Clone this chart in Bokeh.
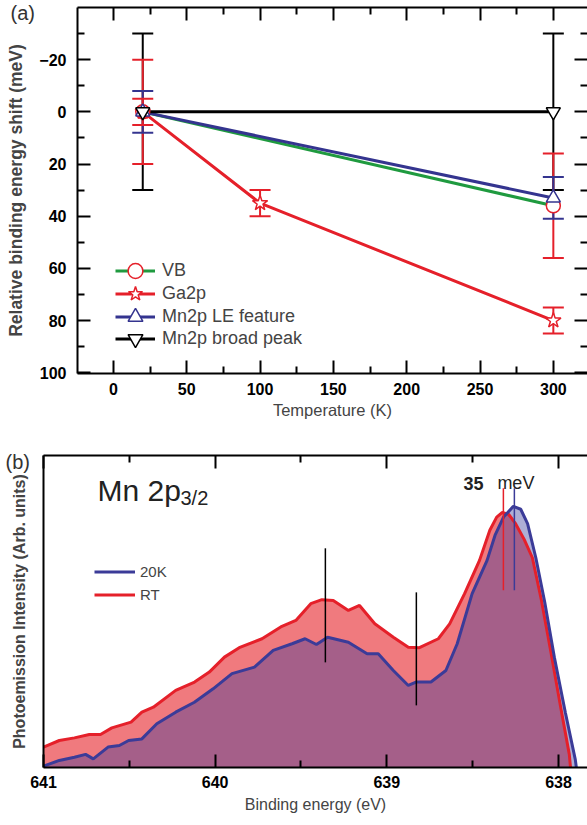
from bokeh.plotting import figure
from bokeh.models import (Range1d, LinearAxis, FixedTicker, Whisker, TeeHead,
                          ColumnDataSource, Legend, LegendItem, Label)
from bokeh.embed import file_html
from bokeh.resources import INLINE

# ---------------- data: panel (a) ----------------
vb_temp = [20, 300]
vb_shift = [0, 36]
vb_err = [20, 20]

ga_temp = [20, 100, 300]
ga_shift = [0, 35, 80]
ga_err = [5, 5, 5]

le_temp = [20, 300]
le_shift = [0, 33]
le_err = [8, 8]

bp_temp = [20, 300]
bp_shift = [0, 0]
bp_err = [30, 30]

a_xticks = [0, 50, 100, 150, 200, 250, 300]
a_xminor = [25, 75, 125, 175, 225, 275]
a_yticks = [-20, 0, 20, 40, 60, 80, 100]
a_yminor = [-30, -10, 10, 30, 50, 70, 90]

# ---------------- data: panel (b) ----------------
rt_ev = [641.0, 640.908, 640.82, 640.733, 640.668, 640.602, 640.49, 640.427, 640.36,
         640.23, 640.12, 640.034, 639.946, 639.86, 639.727, 639.618, 639.53, 639.443,
         639.378, 639.312, 639.224, 639.159, 639.07, 638.962, 638.875, 638.81, 638.70,
         638.634, 638.547, 638.46, 638.40, 638.36, 638.327, 638.29, 638.25, 638.20,
         638.152, 638.10, 638.044, 637.99, 637.937, 637.93]
rt_int = [0.078, 0.103, 0.113, 0.126, 0.126, 0.151, 0.173, 0.211, 0.230,
          0.294, 0.326, 0.364, 0.421, 0.457, 0.491, 0.536, 0.561, 0.625,
          0.640, 0.637, 0.599, 0.618, 0.548, 0.497, 0.459, 0.457, 0.491,
          0.548, 0.663, 0.79, 0.905, 0.955, 0.973, 0.965, 0.93, 0.87,
          0.80, 0.64, 0.44, 0.24, 0.05, 0.0]

k20_ev = [641.0, 640.908, 640.82, 640.755, 640.71, 640.624, 640.558, 640.504, 640.427,
          640.34, 640.23, 640.121, 640.012, 639.902, 639.771, 639.662, 639.552, 639.476,
          639.41, 639.345, 639.224, 639.115, 639.05, 638.962, 638.875, 638.83, 638.743,
          638.656, 638.59, 638.503, 638.416, 638.37, 638.32, 638.263, 638.22, 638.18,
          638.132, 638.08, 638.024, 637.96, 637.902, 637.896]
k20_int = [0.005, 0.027, 0.039, 0.050, 0.033, 0.078, 0.084, 0.103, 0.109,
           0.167, 0.211, 0.249, 0.300, 0.358, 0.383, 0.447, 0.472, 0.491,
           0.469, 0.497, 0.478, 0.434, 0.434, 0.370, 0.313, 0.326, 0.326,
           0.370, 0.472, 0.663, 0.790, 0.885, 0.955, 0.996, 0.985, 0.93,
           0.80, 0.63, 0.42, 0.21, 0.03, 0.0]

feat_ev = [639.358, 638.828]
feat_lo = [0.401, 0.237]
feat_hi = [0.836, 0.668]

peak_rt_ev = 638.321
peak_20k_ev = 638.257
peak_lo = 0.676
peak_hi = 1.065

b_xticks = [641, 640, 639, 638]
b_xminor = [640.5, 639.5, 638.5]

FONT = "Liberation Sans"
RED = "#e5202a"
GREEN = "#1f9a3f"
BLUE = "#34348f"
BLACK = "#000000"


def style_axis(ax, major, minor, labels=True):
    ax.ticker = FixedTicker(ticks=major, minor_ticks=minor)
    ax.major_tick_in = 13
    ax.major_tick_out = 0
    ax.minor_tick_in = 7
    ax.minor_tick_out = 0
    ax.axis_line_width = 2
    ax.major_tick_line_width = 2
    ax.minor_tick_line_width = 2
    ax.major_label_text_font = FONT
    ax.major_label_text_font_style = "bold"
    ax.major_label_text_color = "black"
    if labels:
        ax.major_label_text_font_size = "16px"
    else:
        ax.major_label_overrides = {t: "" for t in major}
        ax.major_label_text_font_size = "0px"
        ax.major_label_standoff = 0
        ax.axis_label = None


def panel_title(p, text, offset, standoff):
    t = p.title
    t.text = text
    t.align = "left"
    t.offset = offset
    t.text_font = FONT
    t.text_font_size = "20px"
    t.text_font_style = "normal"
    t.text_color = "#333333"
    try:
        t.standoff = standoff
        t.vertical_align = "bottom"
        return True
    except Exception:
        t.standoff = 0
        t.vertical_align = "top"
        return False


# ================= panel (a) =================
p1 = figure(width=587, height=430, x_range=Range1d(-24.5, 323.3),
            y_range=Range1d(100.3, -40.0), output_backend="svg",
            toolbar_location=None, min_border_left=77, min_border_right=0,
            min_border_top=7, min_border_bottom=57)
p1.grid.visible = False
p1.outline_line_color = None
if not panel_title(p1, "(a)", -67, -32):
    p1.min_border_top = 30
    p1.y_range.end = -31.3

style_axis(p1.xaxis[0], a_xticks, a_xminor)
style_axis(p1.yaxis[0], a_yticks, a_yminor)
p1.xaxis[0].major_label_standoff = 9
p1.yaxis[0].major_label_standoff = 11
p1.xaxis[0].axis_label = "Temperature (K)"
p1.xaxis[0].axis_label_text_font = FONT
p1.xaxis[0].axis_label_text_font_style = "normal"
p1.xaxis[0].axis_label_text_font_size = "16.5px"
p1.xaxis[0].axis_label_standoff = 3
p1.yaxis[0].axis_label = "Relative binding energy shift (meV)"
p1.yaxis[0].axis_label_text_font = FONT
p1.yaxis[0].axis_label_text_font_style = "bold"
p1.yaxis[0].axis_label_text_font_size = "17.5px"
p1.yaxis[0].axis_label_standoff = 10

top1 = LinearAxis()
style_axis(top1, a_xticks, a_xminor, labels=False)
p1.add_layout(top1, "above")
right1 = LinearAxis()
style_axis(right1, a_yticks, a_yminor, labels=False)
right1.axis_line_color = None
p1.add_layout(right1, "right")


def add_err(p, xs, ys, es, color):
    src = ColumnDataSource(dict(x=xs, up=[y + e for y, e in zip(ys, es)],
                                lo=[y - e for y, e in zip(ys, es)]))
    w = Whisker(source=src, base="x", upper="up", lower="lo", dimension="height",
                line_color=color, line_width=2, level="underlay",
                upper_head=TeeHead(size=21, line_color=color, line_width=2),
                lower_head=TeeHead(size=21, line_color=color, line_width=2))
    p.add_layout(w)


add_err(p1, bp_temp, bp_shift, bp_err, BLACK)
add_err(p1, vb_temp, vb_shift, vb_err, RED)
add_err(p1, le_temp, le_shift, le_err, BLUE)
add_err(p1, ga_temp, ga_shift, ga_err, RED)

vb_l = p1.line(vb_temp, vb_shift, line_color=GREEN, line_width=3)
le_l = p1.line(le_temp, le_shift, line_color=BLUE, line_width=3)
ga_l = p1.line(ga_temp, ga_shift, line_color=RED, line_width=3)
bp_l = p1.line(bp_temp, bp_shift, line_color=BLACK, line_width=3)

vb_m = p1.scatter(vb_temp, vb_shift, marker="circle", size=14, line_color=RED,
                  fill_color="white", line_width=1.5)
ga_m = p1.scatter(ga_temp, ga_shift, marker="star", size=16, line_color=RED,
                  fill_color="white", line_width=1.5)
le_m = p1.scatter(le_temp, le_shift, marker="triangle", size=14, line_color=BLUE,
                  fill_color="white", line_width=1.5)
bp_m = p1.scatter(bp_temp, bp_shift, marker="inverted_triangle", size=14,
                  line_color=BLACK, fill_color="white", line_width=1.5)

# one legend per row so that the legend markers can be large while rows stay close
leg_rows = [("VB", vb_l, vb_m, 84), ("Ga2p", ga_l, ga_m, 61),
            ("Mn2p LE feature", le_l, le_m, 38), ("Mn2p broad peak", bp_l, bp_m, 16)]
for lab, ln, mk, vy in leg_rows:
    lg = Legend(items=[LegendItem(label=lab, renderers=[ln, mk])],
                location=(38, vy), padding=0, margin=0, spacing=0,
                glyph_height=37, glyph_width=40, label_height=37, label_standoff=7,
                label_text_font=FONT, label_text_font_size="18px",
                background_fill_alpha=0, border_line_alpha=0)
    p1.add_layout(lg)

# ================= panel (b) =================
p2 = figure(width=587, height=395, x_range=Range1d(641, 637.831),
            y_range=Range1d(0, 1.19), output_backend="svg",
            toolbar_location=None, min_border_left=43, min_border_right=0,
            min_border_top=25, min_border_bottom=58)
p2.grid.visible = False
p2.outline_line_color = None
panel_title(p2, "(b)", -38, -34)

style_axis(p2.xaxis[0], b_xticks, b_xminor)
p2.xaxis[0].major_label_standoff = 8
p2.xaxis[0].axis_label = "Binding energy (eV)"
p2.xaxis[0].axis_label_text_font = FONT
p2.xaxis[0].axis_label_text_font_style = "normal"
p2.xaxis[0].axis_label_text_font_size = "16px"
p2.xaxis[0].axis_label_standoff = 5

ya = p2.yaxis[0]
ya.ticker = FixedTicker(ticks=[])
ya.axis_line_width = 2
ya.major_label_text_font_size = "0px"
ya.major_label_standoff = 0
ya.major_tick_out = 0
ya.minor_tick_out = 0
ya.axis_label = "Photoemission Intensity (Arb. units)"
ya.axis_label_text_font = FONT
ya.axis_label_text_font_style = "bold"
ya.axis_label_text_font_size = "16px"
ya.axis_label_standoff = 16

top2 = LinearAxis()
style_axis(top2, b_xticks, b_xminor, labels=False)
p2.add_layout(top2, "above")

p2.varea(x=rt_ev, y1=0, y2=rt_int, fill_color="#f07a7e", fill_alpha=1.0)
p2.varea(x=k20_ev, y1=0, y2=k20_int, fill_color="#3a3a9a", fill_alpha=0.41)
rt_l = p2.line(rt_ev, rt_int, line_color=RED, line_width=3)
k20_l = p2.line(k20_ev, k20_int, line_color="#3b3b98", line_width=3)

p2.segment(x0=feat_ev, y0=feat_lo, x1=feat_ev, y1=feat_hi, line_color="black",
           line_width=1.5)
p2.segment(x0=[peak_rt_ev], y0=[peak_lo], x1=[peak_rt_ev], y1=[peak_hi],
           line_color=RED, line_width=1.5)
p2.segment(x0=[peak_20k_ev], y0=[peak_lo], x1=[peak_20k_ev], y1=[peak_hi],
           line_color="#3b3b98", line_width=1.5)

leg2 = Legend(items=[LegendItem(label="20K", renderers=[k20_l]),
                     LegendItem(label="RT", renderers=[rt_l])],
              location=(51, 161), padding=0, margin=0, spacing=0,
              glyph_height=23, glyph_width=41, label_height=23, label_standoff=5,
              label_text_font=FONT, label_text_font_size="15px",
              background_fill_alpha=0, border_line_alpha=0)
p2.add_layout(leg2)

p2.add_layout(Label(x=640.685, y=1.058, text="Mn 2p", text_font=FONT,
                    text_font_size="30px", text_color="#222222",
                    text_baseline="alphabetic"))
p2.add_layout(Label(x=640.202, y=1.027, text="3/2", text_font=FONT,
                    text_font_size="20px", text_color="#222222",
                    text_baseline="alphabetic"))
p2.add_layout(Label(x=638.554, y=1.084, text="35", text_font=FONT,
                    text_font_size="18px", text_font_style="bold",
                    text_color="#222222", text_baseline="alphabetic"))
p2.add_layout(Label(x=638.356, y=1.084, text="meV", text_font=FONT,
                    text_font_size="18px", text_color="#222222",
                    text_baseline="alphabetic"))

open("out.html", "w").write(file_html([p1, p2], INLINE))
